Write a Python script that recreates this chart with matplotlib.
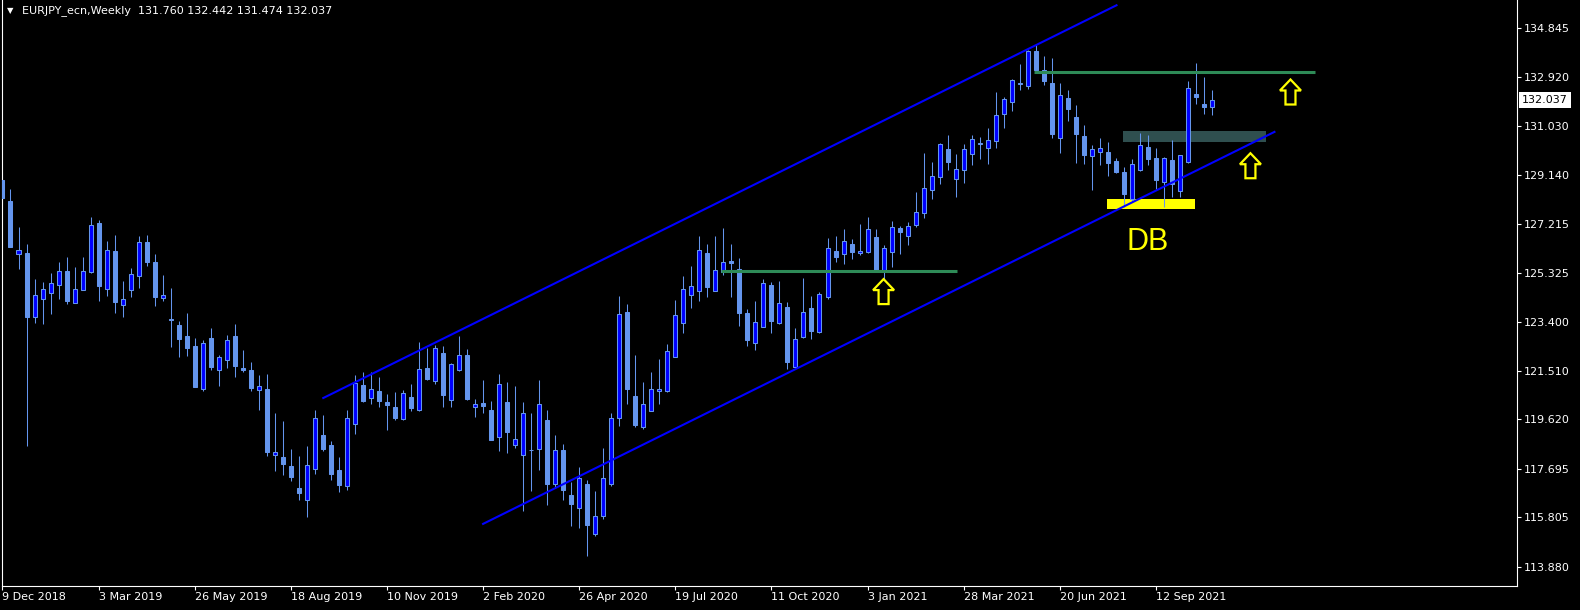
import matplotlib.pyplot as plt
from matplotlib.patches import Polygon, Rectangle

# -----------------------------
# Data (weekly EURJPY candles, 9 Dec 2018 .. 31 Oct 2021)
# -----------------------------
opens = [
    128.93, 128.11, 126.03, 126.09, 123.58, 124.28, 124.54, 124.85, 125.39, 124.15,
    124.66, 125.36, 127.25, 124.67, 126.16, 124.05, 124.63, 125.18, 126.51, 125.74,
    124.35, 123.52, 123.28, 122.86, 122.47, 120.80, 122.78, 121.54, 121.93, 122.86,
    121.61, 121.53, 120.74, 120.79, 118.21, 118.14, 117.79, 116.94, 116.48, 117.69,
    119.00, 118.61, 117.64, 117.02, 119.44, 120.95, 120.45, 120.71, 120.29, 120.09,
    119.61, 120.48, 119.99, 121.61, 121.11, 122.19, 120.35, 121.52, 122.12, 120.08,
    120.25, 119.97, 118.91, 120.29, 118.60, 118.21, 118.43, 118.44, 119.57, 117.08,
    118.42, 116.66, 116.15, 117.09, 115.16, 115.84, 117.10, 119.67, 123.79, 120.52,
    119.32, 119.95, 120.70, 120.71, 122.05, 123.37, 124.46, 124.62, 126.09, 124.62,
    125.36, 125.77, 125.46, 123.75, 122.59, 123.22, 124.84, 123.35, 123.98, 121.64,
    122.80, 123.94, 123.02, 124.36, 126.16, 126.03, 126.44, 126.07, 126.11, 126.71,
    125.40, 126.14, 127.06, 126.74, 127.16, 127.63, 128.53, 129.03, 130.13, 128.95,
    129.31, 129.93, 130.32, 130.16, 130.43, 131.49, 131.95, 132.67, 132.58, 133.95,
    133.21, 132.72, 130.55, 132.11, 131.38, 130.64, 129.87, 130.01, 130.02, 129.67,
    129.25, 128.20, 129.31, 130.20, 129.78, 128.84, 129.71, 128.51, 129.64, 132.28,
    131.89, 131.760,
]
highs = [
    129.24, 128.58, 127.10, 126.44, 125.07, 124.96, 125.31, 125.74, 125.92, 125.54,
    125.92, 127.49, 127.36, 126.55, 126.79, 125.00, 125.50, 126.75, 126.79, 126.05,
    125.23, 124.72, 123.44, 123.75, 122.78, 122.69, 123.17, 122.12, 122.89, 123.32,
    122.31, 121.84, 121.34, 121.38, 119.86, 119.55, 118.46, 118.18, 118.57, 119.97,
    119.78, 118.77, 118.14, 119.97, 121.34, 121.45, 121.45, 121.26, 120.60, 120.67,
    120.75, 120.99, 122.62, 122.39, 122.50, 122.47, 121.82, 122.86, 122.35, 120.40,
    121.14, 120.32, 121.38, 121.06, 120.91, 120.29, 119.86, 121.14, 119.96, 119.00,
    118.65, 117.16, 117.75, 117.25, 116.82, 118.49, 119.86, 124.41, 124.10, 122.12,
    121.06, 121.45, 121.96, 122.54, 124.26, 125.19, 125.58, 126.75, 126.44, 126.75,
    127.06, 126.44, 125.89, 123.91, 124.23, 125.07, 124.96, 125.00, 124.18, 123.17,
    125.11, 124.41, 124.57, 126.67, 126.75, 127.02, 126.63, 127.21, 127.49, 127.02,
    126.40, 127.32, 127.14, 127.29, 128.45, 129.97, 129.62, 130.37, 130.67, 129.93,
    130.32, 130.68, 130.60, 130.95, 132.37, 132.17, 132.86, 133.44, 133.99, 134.18,
    133.76, 133.68, 132.70, 132.43, 131.85, 131.07, 130.28, 130.56, 130.41, 129.78,
    129.43, 129.75, 130.76, 130.68, 130.17, 129.82, 130.49, 129.90, 132.78, 133.48,
    132.94, 132.442,
]
lows = [
    127.95, 126.30, 125.47, 118.57, 123.37, 123.32, 123.71, 124.30, 124.10, 124.13,
    124.64, 125.32, 124.23, 124.42, 123.76, 123.61, 124.38, 124.73, 125.59, 124.03,
    124.23, 122.44, 122.05, 122.09, 120.86, 120.73, 121.54, 120.92, 121.62, 121.27,
    121.47, 120.73, 119.99, 118.19, 117.60, 117.44, 117.22, 116.48, 115.82, 117.49,
    118.39, 117.25, 116.78, 116.86, 119.05, 120.29, 120.22, 120.10, 119.21, 119.60,
    119.59, 119.95, 119.95, 121.14, 121.00, 120.10, 120.10, 121.50, 120.36, 119.71,
    119.86, 118.80, 118.39, 118.31, 118.51, 116.05, 116.82, 117.65, 116.29, 116.96,
    116.48, 115.47, 115.39, 114.30, 115.08, 115.74, 117.03, 119.35, 120.21, 119.32,
    119.25, 119.93, 120.21, 120.67, 122.03, 122.98, 123.94, 124.23, 124.38, 124.60,
    125.24, 124.38, 123.24, 122.48, 122.32, 123.20, 122.98, 123.33, 121.58, 121.62,
    122.78, 122.75, 122.98, 124.28, 125.74, 125.66, 125.85, 126.02, 126.10, 125.38,
    125.03, 125.55, 126.06, 126.41, 127.09, 127.46, 128.18, 128.76, 129.31, 128.25,
    128.80, 129.52, 129.76, 129.56, 130.19, 130.96, 131.63, 132.44, 132.48, 133.13,
    132.64, 130.57, 129.99, 131.24, 129.60, 129.56, 128.55, 129.52, 129.10, 129.21,
    127.89, 128.12, 129.29, 129.51, 128.59, 127.89, 128.28, 128.28, 129.59, 131.90,
    131.51, 131.474,
]
closes = [
    128.23, 126.33, 126.19, 123.61, 124.44, 124.67, 124.91, 125.37, 124.23, 124.68,
    125.37, 127.16, 124.81, 126.19, 124.19, 124.28, 125.26, 126.50, 125.75, 124.38,
    124.44, 123.49, 122.74, 122.40, 120.88, 122.57, 121.65, 122.03, 122.69, 121.70,
    121.54, 120.84, 120.90, 118.35, 118.33, 117.88, 117.38, 116.75, 117.82, 119.66,
    118.46, 117.48, 117.05, 119.65, 121.04, 120.32, 120.78, 120.34, 120.18, 119.66,
    120.62, 120.06, 121.56, 121.18, 122.38, 120.56, 121.76, 122.10, 120.40, 120.20,
    120.12, 118.82, 120.97, 119.13, 118.83, 119.85, 118.41, 120.20, 117.10, 118.40,
    116.85, 116.33, 117.33, 115.51, 115.84, 117.33, 119.65, 123.71, 120.79, 119.39,
    120.21, 120.79, 120.79, 122.27, 123.67, 124.68, 124.80, 126.20, 124.76, 125.42,
    125.74, 125.71, 123.76, 122.71, 123.40, 124.92, 123.45, 124.14, 121.84, 122.73,
    123.78, 123.06, 124.49, 126.27, 125.92, 126.54, 126.14, 126.15, 127.01, 125.40,
    126.27, 127.09, 126.92, 127.14, 127.70, 128.60, 129.07, 130.32, 129.62, 129.34,
    130.12, 130.51, 130.37, 130.47, 131.45, 132.07, 132.81, 132.72, 133.94, 133.22,
    132.79, 130.73, 132.23, 131.70, 130.73, 129.91, 130.13, 130.17, 129.60, 129.25,
    128.38, 129.54, 130.28, 129.75, 128.94, 129.78, 128.76, 129.89, 132.50, 132.15,
    131.78, 132.037,
]

date_ticks = [0, 12, 24, 36, 48, 60, 72, 84, 96, 108, 120, 132, 144]
date_labels = [
    "9 Dec 2018", "3 Mar 2019", "26 May 2019", "18 Aug 2019", "10 Nov 2019",
    "2 Feb 2020", "26 Apr 2020", "19 Jul 2020", "11 Oct 2020", "3 Jan 2021",
    "28 Mar 2021", "20 Jun 2021", "12 Sep 2021",
]
price_ticks = [134.845, 132.920, 131.030, 129.140, 127.215, 125.325,
               123.400, 121.510, 119.620, 117.695, 115.805, 113.880]

# drawn objects: (bar index, price)
upper_channel = ([40.05, 139.08], [120.44, 135.73])
lower_channel = ([60.0, 158.8], [115.54, 130.80])
green_levels = [([89.76, 119.2], 125.37), ([128.8, 163.9], 133.12)]
arrow_tips = [(110.0, 125.07), (155.8, 129.97), (160.8, 132.84)]

BEAR = "#6495ED"
BULL = "#0000FF"

# -----------------------------
# Figure
# -----------------------------
fig = plt.figure(figsize=(15.8, 6.1), dpi=100, facecolor="black")
ax = fig.add_axes([2 / 1580, 24.5 / 610, 1515 / 1580, 585.5 / 610])
ax.set_facecolor("black")
ax.set_xlim(-0.06, 189.08)
ax.set_ylim(113.141, 135.935)

# rectangles behind candles
ax.add_patch(Rectangle((139.9, 130.42), 17.9, 0.415, color="#2F4F4F", lw=0, zorder=1))
ax.add_patch(Rectangle((137.9, 127.80), 11.0, 0.39, color="#FFFF00", lw=0, zorder=1))

# candles
idx = list(range(len(opens)))
ax.vlines(idx, lows, highs, colors=BEAR, lw=0.75, zorder=2)
bottoms = [min(o, c) for o, c in zip(opens, closes)]
heights = [max(abs(c - o), 0.005) for o, c in zip(opens, closes)]
fills = [BULL if c > o else BEAR for o, c in zip(opens, closes)]
ax.bar(idx, heights, bottom=bottoms, width=0.5, color=fills,
       edgecolor=BEAR, linewidth=0.75, zorder=3)

# channel + levels
for xs, ys in (upper_channel, lower_channel):
    ax.plot(xs, ys, color="#0000FF", lw=1.5, zorder=4)
for xs, y in green_levels:
    ax.plot(xs, [y, y], color="#2E8B57", lw=2.2, zorder=4, solid_capstyle="butt")

# outlined up arrows
def up_arrow(xc, ytip):
    sx, sy = 1 / 8.01, 0.03893
    pts = [(0, 0), (10.5, 11), (5, 11), (5, 25), (-5, 25), (-5, 11), (-10.5, 11)]
    return Polygon([(xc + px * sx, ytip - py * sy) for px, py in pts], closed=True,
                   fc="black", ec="#FFFF00", lw=1.6, zorder=5)

for xc, yt in arrow_tips:
    ax.add_patch(up_arrow(xc, yt))

ax.text(140.3, 126.20, "DB", color="#FFFF00", fontsize=22,
        family="Liberation Sans", ha="left", va="baseline", zorder=6)

# -----------------------------
# Axes styling
# -----------------------------
for side in ("left", "right", "bottom"):
    ax.spines[side].set_color("white")
    ax.spines[side].set_linewidth(0.8)
ax.spines["top"].set_visible(False)

ax.yaxis.tick_right()
ax.set_yticks(price_ticks)
ax.set_yticklabels([f"{v:.3f}" for v in price_ticks])
ax.tick_params(axis="y", colors="white", length=3, width=0.8, pad=2, labelsize=8)

ax.set_xticks(date_ticks)
ax.set_xticklabels(date_labels)
ax.tick_params(axis="x", colors="white", length=3, width=0.8, pad=2, labelsize=8)
for lbl in ax.get_xticklabels():
    lbl.set_ha("left")

# current price tag
ax.text(1.0033, closes[-1], f"{closes[-1]:.3f}", transform=ax.get_yaxis_transform(),
        color="black", fontsize=8, ha="left", va="center",
        bbox=dict(boxstyle="square,pad=0.3", fc="white", ec="none"))

# header
fig.text(7 / 1580, 1 - 11 / 610, "\u25bc", color="white", fontsize=6, va="center")
fig.text(22 / 1580, 1 - 11 / 610,
         f"EURJPY_ecn,Weekly  {opens[-1]:.3f} {highs[-1]:.3f} {lows[-1]:.3f} {closes[-1]:.3f}",
         color="white", fontsize=8, va="center")

fig.savefig("out.png", dpi=100, facecolor="black")
